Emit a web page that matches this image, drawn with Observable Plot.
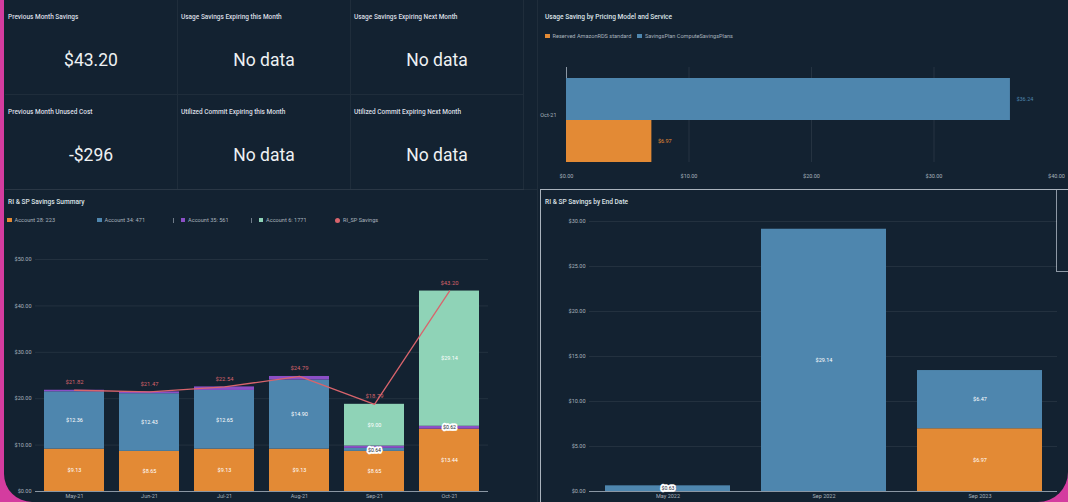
<!DOCTYPE html>
<html><head><meta charset="utf-8">
<script src="https://cdn.jsdelivr.net/npm/d3@7"></script>
<script src="https://cdn.jsdelivr.net/npm/@observablehq/plot@0.6"></script>
<style>
html,body{margin:0;padding:0;width:1068px;height:502px;overflow:hidden;background:#d43c9f;font-family:Roboto,"Noto Sans",sans-serif;}
#dash{position:absolute;left:4px;top:-40px;width:1064px;height:542px;background:#132231;border-radius:0 0 30px 28px;overflow:hidden;}
#inner{position:absolute;left:-4px;top:40px;width:1068px;height:502px;}
.abs{position:absolute;}
.cell{position:absolute;box-sizing:border-box;border-right:1px solid rgba(255,255,255,0.05);border-bottom:1px solid rgba(255,255,255,0.05);}
.ctitle{position:absolute;left:3px;font-size:6.5px;font-weight:500;color:#d9dee3;white-space:nowrap;}
.cval{position:absolute;left:0;right:0;text-align:center;font-size:17.5px;color:#eef1f3;}
.ptitle{position:absolute;font-size:6.6px;font-weight:500;color:#dde2e7;white-space:nowrap;}
.legend{position:absolute;display:flex;align-items:center;font-size:5.6px;color:#a9b3bd;white-space:nowrap;}
.legend .item{display:flex;align-items:center;}
.legend .sw{width:4.5px;height:4.5px;margin-right:3px;display:inline-block;}
.legend .dot{width:5px;height:5px;border-radius:50%;margin-right:3px;display:inline-block;}
.legend .sep{display:inline-block;width:0.6px;height:5px;background:#6f7b88;margin-right:7px;}
.chart svg{display:block;}
</style>
</head><body>
<div id="dash"><div id="inner"></div></div>
<script>
// ---------- data ----------
const kpiTitles = ["Previous Month Savings","Usage Savings Expiring this Month","Usage Savings Expiring Next Month",
                   "Previous Month Unused Cost","Utilized Commit Expiring this Month","Utilized Commit Expiring Next Month"];
const kpiValues = ["$43.20","No data","No data","-$296","No data","No data"];

const usageTitle = "Usage Saving by Pricing Model and Service";
const pricingModels = ["Reserved AmazonRDS standard","SavingsPlan ComputeSavingsPlans"];
const usageMonths = ["Oct-21"];
const usageSavings = [6.97, 36.24];
const usageTicks = [0,10,20,30,40];

const summaryTitle = "RI & SP Savings Summary";
const summaryMonths = ["May-21","Jun-21","Jul-21","Aug-21","Sep-21","Oct-21"];
const accounts = ["Account 28: 223","Account 34: 471","Account 35: 561","Account 6: 1771"];
const acct28 = [9.13, 8.65, 9.13, 9.13, 8.65, 13.44];
const acct34 = [12.36, 12.43, 12.65, 14.90, 0.64, 0];
const acct35 = [0.33, 0.39, 0.76, 0.76, 0.50, 0.62];
const acct6  = [0, 0, 0, 0, 9.00, 29.14];
const lineName = "RI_SP Savings";
const riSpSavings = [21.82, 21.47, 22.54, 24.79, 18.79, 43.20];
const summaryTicks = [0,10,20,30,40,50];
const summaryBoxed = [["Sep-21","Account 34: 471"],["Oct-21","Account 35: 561"]];

const endTitle = "RI & SP Savings by End Date";
const endDates = ["May 2022","Sep 2022","Sep 2023"];
const endRI = [0, 0, 6.97];
const endSP = [0.63, 29.14, 6.47];
const endTicks = [0,5,10,15,20,25,30];
const endBoxed = [["May 2022", pricingModels[1]]];

// ---------- style ----------
const C = {orange:"#e38a35", blue:"#4e86ae", purple:"#8b4fc6", teal:"#8fd3b7", red:"#d8646c",
           axis:"#a9b3bd", grid:"#ffffff", boxText:"#1a2633"};
const fmt = d3.format("$.2f");
const inner = document.getElementById("inner");
function el(tag, cls, css, text){const e=document.createElement(tag); if(cls) e.className=cls; if(css) e.style.cssText=css; if(text!=null) e.textContent=text; return e;}
const baseStyle = {background:"transparent", color:C.axis, fontSize:"5.5px", fontFamily:"Roboto, sans-serif", overflow:"visible"};

// ---------- KPI cells ----------
kpiTitles.forEach((t,i)=>{
  const col=i%3, row=Math.floor(i/3);
  const c = el("div","cell",`left:${5+col*173}px;top:${row*95}px;width:173px;height:95px;`);
  c.appendChild(el("div","ctitle","top:13px;",t));
  c.appendChild(el("div","cval","top:50px;",kpiValues[i]));
  inner.appendChild(c);
});

// panel borders
inner.appendChild(el("div","abs","left:537px;top:0;width:1px;height:190px;background:rgba(255,255,255,0.05);"));
inner.appendChild(el("div","abs","left:5px;top:189px;width:532px;height:1px;background:rgba(255,255,255,0.05);"));
inner.appendChild(el("div","abs","left:537px;top:190px;width:1px;height:312px;background:rgba(255,255,255,0.05);"));

// ---------- Top-right: usage saving ----------
inner.appendChild(el("div","ptitle","left:545px;top:13px;",usageTitle));
{
  const lg = el("div","legend","left:545px;top:33px;");
  pricingModels.forEach((m,i)=>{
    const it = el("div","item", i? "margin-left:6px;":"");
    it.appendChild(el("span","sw",`background:${[C.orange,C.blue][i]};`));
    it.appendChild(el("span",null,null,m));
    lg.appendChild(it);
  });
  inner.appendChild(lg);
}
const usageData = pricingModels.map((m,i)=>({month:usageMonths[0], model:m, value:usageSavings[i]}));
const c1 = Plot.plot({
  width:528, height:140, marginTop:17, marginBottom:28, marginLeft:26, marginRight:12,
  style: baseStyle,
  x:{domain:[0,40], ticks:usageTicks, tickFormat:fmt, tickSize:0, tickPadding:12, label:null},
  fy:{padding:0, label:null, axis:"left", tickSize:0, tickPadding:10},
  y:{domain:[pricingModels[1], pricingModels[0]], padding:0, insetTop:11, axis:null},
  color:{domain:pricingModels, range:[C.orange, C.blue]},
  marks:[
    Plot.gridX(usageTicks.slice(1,-1), {stroke:C.grid, strokeOpacity:0.08}),
    Plot.ruleX([0], {stroke:"#8b97a4", strokeWidth:1}),
    Plot.barX(usageData, {x:"value", y:"model", fy:"month", fill:"model"}),
    Plot.text(usageData, {x:"value", y:"model", fy:"month", text:d=>fmt(d.value), textAnchor:"start", dx:6, fill:"model", fontSize:5.5})
  ]
});
{const w=el("div","abs chart","left:540px;top:50px;width:528px;"); w.appendChild(c1); inner.appendChild(w);}

// ---------- Bottom-left: summary ----------
inner.appendChild(el("div","ptitle","left:8px;top:198px;",summaryTitle));
{
  const lg = el("div","legend","left:7px;top:217px;");
  const cols=[C.orange,C.blue,C.purple,C.teal];
  const widths=[90,85,87,84];
  accounts.forEach((a,i)=>{
    const it = el("div","item",`width:${widths[i]}px;` + (i===2||i===3 ? "margin-left:-9px;":""));
    if(i===2||i===3) it.appendChild(el("span","sep"));
    it.appendChild(el("span","sw",`background:${cols[i]};`));
    it.appendChild(el("span",null,null,a));
    lg.appendChild(it);
  });
  const it = el("div","item","margin-left:0px;");
  it.appendChild(el("span","dot",`background:${C.red};`));
  it.appendChild(el("span",null,null,lineName));
  lg.appendChild(it);
  inner.appendChild(lg);
}
const series=[acct28,acct34,acct35,acct6];
const summaryData=[];
accounts.forEach((a,j)=>summaryMonths.forEach((m,i)=>summaryData.push({month:m, account:a, value:series[j][i]})));
const totalsData = summaryMonths.map((m,i)=>({month:m, total:riSpSavings[i]}));
const isBoxed = (list,a,b)=>list.some(k=>k[0]===a&&k[1]===b);
const c2 = Plot.plot({
  width:531, height:270, marginTop:19, marginBottom:19, marginLeft:30, marginRight:48,
  style: baseStyle,
  x:{domain:summaryMonths, paddingInner:0.2, paddingOuter:0.1, label:null, tickSize:0, tickPadding:3},
  y:{domain:[0,50], ticks:summaryTicks, tickFormat:fmt, label:null, tickSize:0, tickPadding:4},
  color:{domain:accounts, range:[C.orange,C.blue,C.purple,C.teal]},
  marks:[
    Plot.gridY(summaryTicks, {stroke:C.grid, strokeOpacity:0.07}),
    Plot.barY(summaryData, {x:"month", y:"value", fill:"account"}),
    Plot.ruleY([0], {stroke:"#8b97a4"}),
    Plot.text(summaryData, Plot.stackY({x:"month", y:"value", text:d=>d.value>=2?fmt(d.value):null, fill:"white", fontSize:5.5})),
    Plot.text(summaryData, Plot.stackY({x:"month", y:"value", text:d=>isBoxed(summaryBoxed,d.month,d.account)?fmt(d.value):null, fill:C.boxText, stroke:"white", strokeWidth:3.5, fontSize:5.2})),
    Plot.lineY(totalsData, {x:"month", y:"total", stroke:C.red, strokeWidth:1.3}),
    Plot.text(totalsData, {x:"month", y:"total", text:d=>fmt(d.total), dy:-8, fill:C.red, fontSize:5.8})
  ]
});
{const w=el("div","abs chart","left:5px;top:240px;width:531px;"); w.appendChild(c2); inner.appendChild(w);}

// ---------- Bottom-right: by end date ----------
inner.appendChild(el("div","abs","left:540px;top:189px;width:540px;height:330px;box-sizing:border-box;border-left:1.5px solid #aab3bd;border-top:1.5px solid #aab3bd;"));
inner.appendChild(el("div","abs","left:1056px;top:190px;width:20px;height:82px;box-sizing:border-box;border-left:1px solid #8e99a5;border-bottom:1px solid #8e99a5;"));
inner.appendChild(el("div","ptitle","left:545px;top:198px;",endTitle));
const endData=[];
endDates.forEach((d,i)=>endData.push({date:d, model:pricingModels[0], value:endRI[i]}));
endDates.forEach((d,i)=>endData.push({date:d, model:pricingModels[1], value:endSP[i]}));
const c3 = Plot.plot({
  width:528, height:300, marginTop:11, marginBottom:19, marginLeft:49, marginRight:11,
  style: baseStyle,
  x:{domain:endDates, paddingInner:0.2, paddingOuter:0.1, label:null, tickSize:0, tickPadding:3},
  y:{domain:[0,30], ticks:endTicks, tickFormat:fmt, label:null, tickSize:0, tickPadding:4},
  color:{domain:pricingModels, range:[C.orange,C.blue]},
  marks:[
    Plot.gridY(endTicks, {stroke:C.grid, strokeOpacity:0.07}),
    Plot.barY(endData, {x:"date", y:"value", fill:"model"}),
    Plot.ruleY([0], {stroke:"#8b97a4"}),
    Plot.text(endData, Plot.stackY({x:"date", y:"value", text:d=>d.value>=2?fmt(d.value):null, fill:"white", fontSize:5.5})),
    Plot.text(endData, Plot.stackY({x:"date", y:"value", text:d=>isBoxed(endBoxed,d.date,d.model)?fmt(d.value):null, fill:C.boxText, stroke:"white", strokeWidth:3.5, fontSize:5.2}))
  ]
});
{const w=el("div","abs chart","left:540px;top:210px;width:528px;"); w.appendChild(c3); inner.appendChild(w);}
</script>
</body></html>
